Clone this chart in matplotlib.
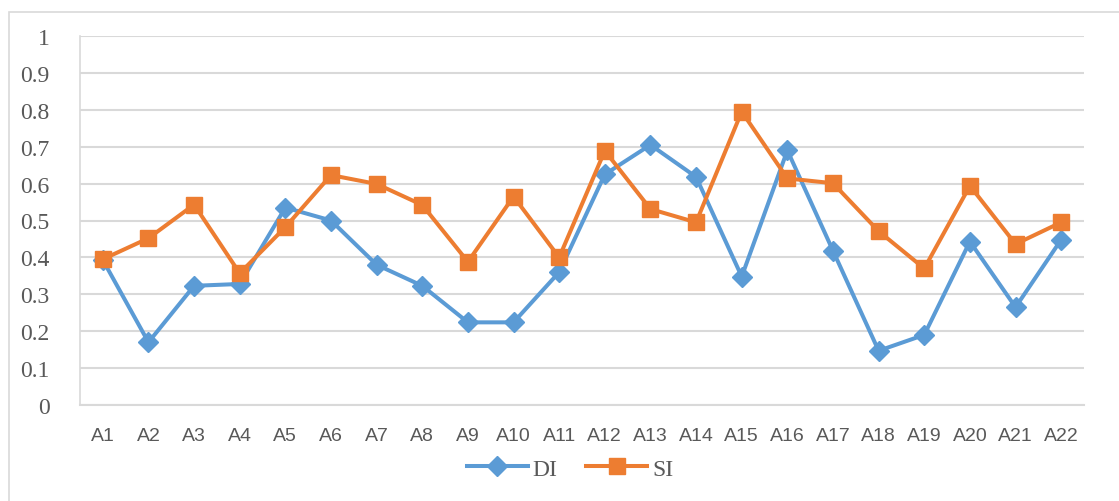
import matplotlib.pyplot as plt
from matplotlib.patches import Rectangle

categories = [f"A{i}" for i in range(1, 23)]
di_values = [0.393, 0.170, 0.323, 0.328, 0.535, 0.500, 0.380, 0.323, 0.224, 0.224, 0.360,
             0.625, 0.705, 0.618, 0.348, 0.690, 0.418, 0.147, 0.190, 0.443, 0.265, 0.448]
si_values = [0.395, 0.452, 0.543, 0.357, 0.482, 0.623, 0.599, 0.542, 0.388, 0.565, 0.400,
             0.689, 0.531, 0.495, 0.795, 0.614, 0.601, 0.471, 0.370, 0.594, 0.436, 0.495]
y_ticks = [0, 0.1, 0.2, 0.3, 0.4, 0.5, 0.6, 0.7, 0.8, 0.9, 1]

blue = "#5B9BD5"
orange = "#ED7D31"
grid = "#D9D9D9"
text_col = "#595959"

fig = plt.figure(figsize=(11.19, 5.02), dpi=100)
W, H = 1119, 502

# outer chart border (cut off at right and bottom)
fig.patches.append(Rectangle((9 / W, -0.1), 1.2, 1 - 13 / H + 0.1, transform=fig.transFigure,
                             fill=False, edgecolor=grid, linewidth=1.2))

ax = fig.add_axes([80 / W, 1 - 406 / H, (1084 - 80) / W, (406 - 37) / H])
x = list(range(len(categories)))
ax.plot(x, di_values, color=blue, linewidth=2.9, marker="D", markersize=10.5, label="DI", zorder=3)
ax.plot(x, si_values, color=orange, linewidth=2.9, marker="s", markersize=11.5, label="SI", zorder=4)

ax.set_xlim(-0.5, len(categories) - 0.5)
ax.set_ylim(0, 1)
ax.set_yticks(y_ticks)
ax.set_yticklabels([f"{t:g}" for t in y_ticks], family="Liberation Serif", fontsize=17, color=text_col)
ax.set_xticks(x)
ax.set_xticklabels(categories, family=["Liberation Sans Narrow", "Liberation Sans"], fontsize=14,
                   color=text_col)
ax.tick_params(axis="both", length=0)
ax.tick_params(axis="y", pad=22)
ax.tick_params(axis="x", pad=16)
ax.grid(axis="y", color=grid, linewidth=1.5)
ax.set_axisbelow(True)
for side in ["top", "right"]:
    ax.spines[side].set_visible(False)
ax.spines["left"].set_color(grid)
ax.spines["bottom"].set_color(grid)
ax.spines["left"].set_linewidth(1.2)
ax.spines["bottom"].set_linewidth(1.5)

leg = ax.legend(loc="center", bbox_to_anchor=(570 / W, 1 - 470 / H), bbox_transform=fig.transFigure,
                ncol=2, frameon=False, prop={"family": "Liberation Serif", "size": 17},
                handlelength=2.6, columnspacing=1.2, handletextpad=0.2)
for t in leg.get_texts():
    t.set_color(text_col)

fig.savefig("out.png", dpi=100)
